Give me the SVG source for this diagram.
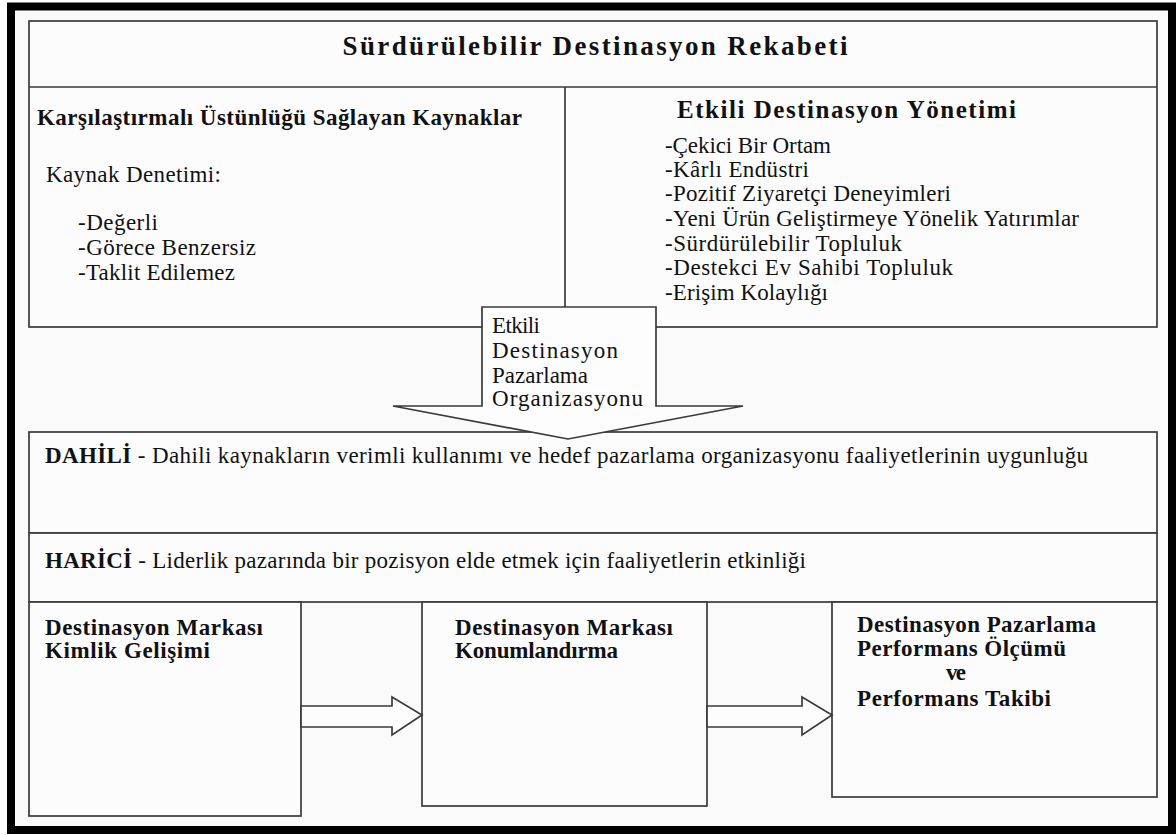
<svg xmlns="http://www.w3.org/2000/svg" width="1176" height="835" viewBox="0 0 1176 835">
<style>
.ln{fill:#fcfcfc;stroke:#3a3a3a;stroke-width:1.7}
.arr{fill:#fdfdfd;stroke:#3a3a3a;stroke-width:1.7;stroke-linejoin:miter}
</style>
<rect x="0" y="0" width="1176" height="835" fill="#ffffff"/>
<rect x="11" y="6.5" width="1161" height="823.5" fill="#fafafa" stroke="#000" stroke-width="8"/>

<g id="top-panel">
<rect class="ln" x="29" y="21" width="1128" height="306"/>
<line x1="29" y1="87" x2="1157" y2="87" stroke="#3a3a3a" stroke-width="1.7"/>
<line x1="565" y1="87" x2="565" y2="327" stroke="#3a3a3a" stroke-width="1.7"/>
</g>

<g id="dahili">
<rect class="ln" x="29" y="432" width="1128" height="101"/>
<text x="45" y="463" font-family="Liberation Serif, DejaVu Serif, serif" font-size="23" fill="#111" textLength="1043" lengthAdjust="spacing"><tspan font-weight="bold">DAHİLİ</tspan> - Dahili kaynakların verimli kullanımı ve hedef pazarlama organizasyonu faaliyetlerinin uygunluğu</text>
</g>

<g id="harici">
<rect class="ln" x="29" y="533" width="1128" height="69"/>
<text x="45" y="568" font-family="Liberation Serif, DejaVu Serif, serif" font-size="23" fill="#111" textLength="761" lengthAdjust="spacing"><tspan font-weight="bold">HARİCİ</tspan> - Liderlik pazarında bir pozisyon elde etmek için faaliyetlerin etkinliği</text>
</g>

<g font-family="Liberation Serif, DejaVu Serif, serif" fill="#111" font-size="23">
<g id="title">
<text x="595" y="55" text-anchor="middle" font-weight="bold" font-size="27" textLength="505" lengthAdjust="spacing">Sürdürülebilir Destinasyon Rekabeti</text>
</g>

<g id="kaynaklar">
<text x="37" y="125" font-weight="bold" font-size="23" textLength="485" lengthAdjust="spacing">Karşılaştırmalı Üstünlüğü Sağlayan Kaynaklar</text>
<text x="46" y="182" textLength="175" lengthAdjust="spacing">Kaynak Denetimi:</text>
<text x="78" y="230" textLength="80" lengthAdjust="spacing">-Değerli</text>
<text x="78" y="255" textLength="178" lengthAdjust="spacing">-Görece Benzersiz</text>
<text x="78" y="280" textLength="157" lengthAdjust="spacing">-Taklit Edilemez</text>
</g>

<g id="yonetim">
<text x="677" y="118" font-weight="bold" font-size="25" textLength="339" lengthAdjust="spacing">Etkili Destinasyon Yönetimi</text>
<text x="665" y="153" textLength="166" lengthAdjust="spacing">-Çekici Bir Ortam</text>
<text x="665" y="177" textLength="144" lengthAdjust="spacing">-Kârlı Endüstri</text>
<text x="665" y="201" textLength="286" lengthAdjust="spacing">-Pozitif Ziyaretçi Deneyimleri</text>
<text x="665" y="226" textLength="414" lengthAdjust="spacing">-Yeni Ürün Geliştirmeye Yönelik Yatırımlar</text>
<text x="665" y="251" textLength="237" lengthAdjust="spacing">-Sürdürülebilir Topluluk</text>
<text x="665" y="275" textLength="288" lengthAdjust="spacing">-Destekci Ev Sahibi Topluluk</text>
<text x="665" y="300" textLength="163" lengthAdjust="spacing">-Erişim Kolaylığı</text>
</g>

<g id="emo-arrow">
<polygon class="arr" points="482,307 656,307 656,406 743,406 568,439 393,406 482,406"/>
<text x="492" y="333" textLength="48" lengthAdjust="spacing">Etkili</text>
<text x="492" y="358" textLength="126" lengthAdjust="spacing">Destinasyon</text>
<text x="492" y="383" textLength="96" lengthAdjust="spacing">Pazarlama</text>
<text x="492" y="406" textLength="151" lengthAdjust="spacing">Organizasyonu</text>
</g>

<g id="kimlik" font-weight="bold" font-size="23">
<rect class="ln" x="29" y="602" width="272" height="214"/>
<text x="45" y="635" textLength="218" lengthAdjust="spacing">Destinasyon Markası</text>
<text x="45" y="658" textLength="165" lengthAdjust="spacing">Kimlik Gelişimi</text>
</g>

<g id="konumlandirma" font-weight="bold" font-size="23">
<rect class="ln" x="422" y="602" width="285" height="204"/>
<text x="455" y="635" textLength="218" lengthAdjust="spacing">Destinasyon Markası</text>
<text x="455" y="658" textLength="163" lengthAdjust="spacing">Konumlandırma</text>
</g>

<g id="performans" font-weight="bold" font-size="23">
<rect class="ln" x="832" y="602" width="325" height="195"/>
<text x="857" y="632" textLength="239" lengthAdjust="spacing">Destinasyon Pazarlama</text>
<text x="857" y="656" textLength="209" lengthAdjust="spacing">Performans Ölçümü</text>
<text x="946" y="680" textLength="20" lengthAdjust="spacing">ve</text>
<text x="857" y="706" textLength="194" lengthAdjust="spacing">Performans Takibi</text>
</g>
</g>

<g id="connectors">
<polygon class="arr" points="301,706 392,706 392,697 422,715 392,735 392,727 301,727"/>
<polygon class="arr" points="707,706 802,706 802,697 832,715 802,735 802,727 707,727"/>
</g>
</svg>
